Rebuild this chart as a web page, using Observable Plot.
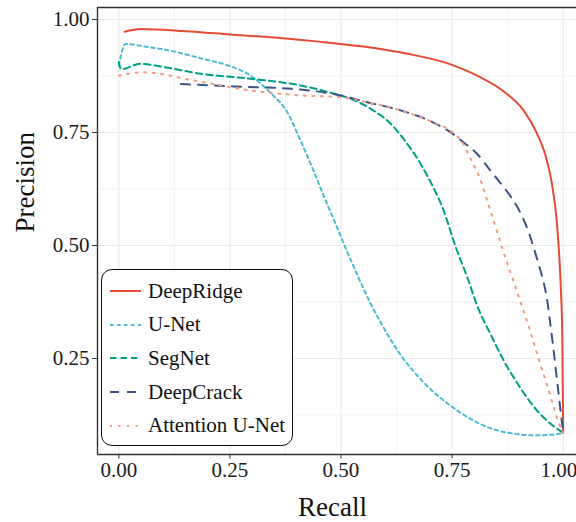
<!DOCTYPE html>
<html><head><meta charset="utf-8">
<script src="https://cdn.jsdelivr.net/npm/d3@7"></script>
<script src="https://cdn.jsdelivr.net/npm/@observablehq/plot@0.6"></script>
<style>
body{margin:0;background:#fff;}
#wrap{position:relative;width:576px;height:522px;overflow:hidden;font-family:"Liberation Serif",serif;}
#legend{position:absolute;left:101px;top:269px;width:190px;height:175px;border:1.6px solid #111;border-radius:11px;background:#fff;}
.row{position:absolute;left:0;height:30px;display:flex;align-items:center;}
.row svg{margin-left:8px;margin-right:7px;}
.row span{font-size:21px;color:#111;white-space:nowrap;}
</style></head><body><div id="wrap"></div>
<script>
const models = ["DeepRidge","U-Net","SegNet","DeepCrack","Attention U-Net"];
const colors = ["#E64B35","#4DBBD5","#00A087","#3C5488","#F39B7F"];
const dashes = ["none","3.5,3.5","6.5,4","9,8","2,6.5"];

const deepRidgeRecall    = [0.013,0.05,0.15,0.25,0.35,0.45,0.55,0.65,0.74,0.81,0.87,0.91,0.94,0.96,0.975,0.985,0.991,0.995,0.998,0.999,1.0];
const deepRidgePrecision = [0.973,0.979,0.974,0.967,0.960,0.951,0.940,0.924,0.903,0.874,0.838,0.800,0.750,0.700,0.635,0.56,0.48,0.40,0.30,0.20,0.086];

const uNetRecall    = [0,0.015,0.06,0.12,0.184,0.24,0.296,0.341,0.379,0.409,0.438,0.461,0.484,0.503,0.521,0.544,0.566,0.589,0.611,0.634,0.663,0.686,0.715,0.746,0.807,0.874,0.942,0.994,1.0];
const uNetPrecision = [0.898,0.946,0.940,0.930,0.914,0.900,0.876,0.838,0.795,0.732,0.666,0.610,0.557,0.512,0.470,0.419,0.373,0.330,0.293,0.258,0.222,0.197,0.170,0.146,0.108,0.086,0.080,0.084,0.086];

const segNetRecall    = [0,0.005,0.049,0.1,0.184,0.296,0.409,0.476,0.521,0.566,0.611,0.649,0.679,0.708,0.730,0.757,0.784,0.810,0.836,0.866,0.903,0.941,0.971,1.0];
const segNetPrecision = [0.906,0.890,0.902,0.895,0.880,0.869,0.854,0.838,0.825,0.803,0.770,0.725,0.681,0.628,0.580,0.50,0.43,0.358,0.305,0.246,0.186,0.135,0.106,0.086];

const deepCrackRecall    = [0.14,0.259,0.409,0.499,0.559,0.634,0.708,0.746,0.776,0.806,0.836,0.859,0.877,0.897,0.911,0.924,0.933,0.942,0.953,0.963,0.970,0.978,0.988,1.0];
const deepCrackPrecision = [0.857,0.852,0.845,0.832,0.817,0.799,0.772,0.751,0.728,0.703,0.666,0.638,0.615,0.585,0.557,0.525,0.497,0.468,0.430,0.385,0.335,0.272,0.186,0.086];

const attUNetRecall    = [0,0.056,0.169,0.296,0.409,0.499,0.559,0.634,0.708,0.746,0.773,0.790,0.810,0.829,0.843,0.866,0.885,0.904,0.915,0.926,0.944,0.964,0.978,0.989,1.0];
const attUNetPrecision = [0.876,0.883,0.865,0.843,0.832,0.828,0.817,0.799,0.772,0.754,0.728,0.695,0.655,0.600,0.556,0.485,0.430,0.375,0.343,0.310,0.252,0.190,0.145,0.110,0.086];

const xTicks = [0,0.25,0.5,0.75,1];
const yTicks = [0.25,0.5,0.75,1];
const minorTicks = [0.125,0.375,0.625,0.875];

const series = [
  [deepRidgeRecall, deepRidgePrecision],
  [uNetRecall, uNetPrecision],
  [segNetRecall, segNetPrecision],
  [deepCrackRecall, deepCrackPrecision],
  [attUNetRecall, attUNetPrecision]
];
const xDom = [-0.048, 1.03];
const yDom = [0.0376, 1.0265];

const lineMarks = series.map(([r, p], i) => {
  const data = r.map((v, j) => ({recall: v, precision: p[j]}));
  return Plot.line(data, {x: "recall", y: "precision", stroke: colors[i], strokeWidth: 2,
    strokeDasharray: dashes[i] === "none" ? undefined : dashes[i], curve: "monotone-x"});
});

const fmt = d => d.toFixed(2);
const chart = Plot.plot({
  width: 576, height: 522,
  marginLeft: 97, marginRight: 0, marginTop: 7, marginBottom: 68,
  style: {fontFamily: "Liberation Serif, serif", fontSize: "21px", color: "#1a1a1a", background: "#fff", overflow: "visible"},
  x: {domain: xDom, axis: null},
  y: {domain: yDom, axis: null},
  marks: [
    Plot.gridX(minorTicks, {stroke: "#ebebeb", strokeOpacity: 1, strokeWidth: 0.6}),
    Plot.gridY(minorTicks, {stroke: "#ebebeb", strokeOpacity: 1, strokeWidth: 0.6}),
    Plot.gridX(xTicks, {stroke: "#ebebeb", strokeOpacity: 1, strokeWidth: 1.2}),
    Plot.gridY(yTicks, {stroke: "#ebebeb", strokeOpacity: 1, strokeWidth: 1.2}),
    ...lineMarks,
    Plot.ruleX([xDom[0]], {stroke: "#333", strokeWidth: 1.4}),
    Plot.ruleY([yDom[0]], {stroke: "#333", strokeWidth: 1.4}),
    Plot.ruleY([yDom[1]], {stroke: "#333", strokeWidth: 1.4}),
    Plot.axisX(xTicks.slice(0, -1), {tickFormat: fmt, tickSize: 4.5, tickPadding: 3, stroke: "#333", label: null, fontSize: 21}),
    Plot.axisX(xTicks.slice(-1), {tickFormat: fmt, tickSize: 4.5, tickPadding: 3, stroke: "#333", label: null, fontSize: 21, textAnchor: "end", dx: 14}),
    Plot.axisY(yTicks, {tickFormat: fmt, tickSize: 5, tickPadding: 3, stroke: "#333", label: null, fontSize: 21}),
    Plot.text(["Recall"], {frameAnchor: "bottom", lineAnchor: "middle", dx: -4.5, dy: 53, fontSize: 27, fill: "#111"}),
    Plot.text(["Precision"], {frameAnchor: "left", lineAnchor: "middle", rotate: -90, dx: -72, dy: 1.5, fontSize: 27, fill: "#111"})
  ]
});

const wrap = document.getElementById("wrap");
wrap.appendChild(chart);

const legend = document.createElement("div");
legend.id = "legend";
models.forEach((m, i) => {
  const row = document.createElement("div");
  row.className = "row";
  row.style.top = (6 + i * 33.7) + "px";
  const svg = d3.create("svg").attr("width", 31).attr("height", 6);
  svg.append("line").attr("x1", 0).attr("x2", 31).attr("y1", 3).attr("y2", 3)
    .attr("stroke", colors[i]).attr("stroke-width", 2)
    .attr("stroke-dasharray", dashes[i] === "none" ? null : dashes[i]);
  row.appendChild(svg.node());
  const span = document.createElement("span");
  span.textContent = m;
  row.appendChild(span);
  legend.appendChild(row);
});
wrap.appendChild(legend);
</script></body></html>
